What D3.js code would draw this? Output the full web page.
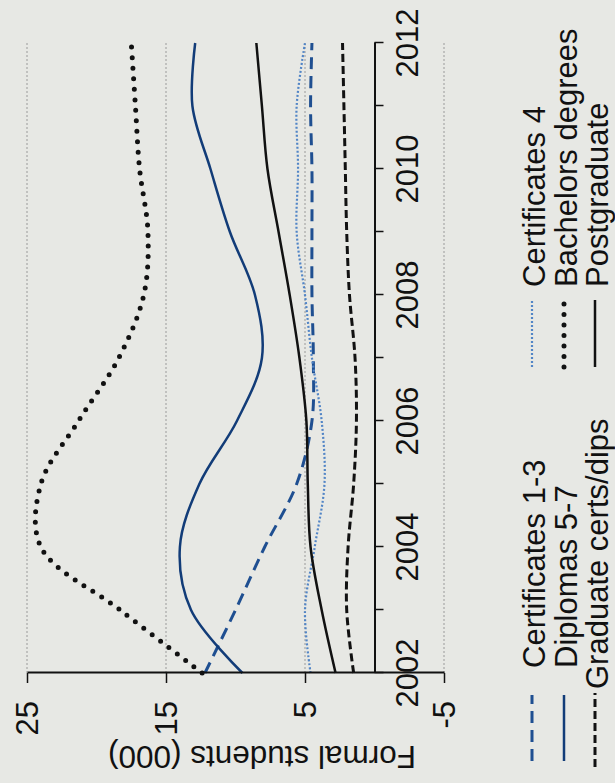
<!DOCTYPE html>
<html>
<head>
<meta charset="utf-8">
<script src="https://cdn.jsdelivr.net/npm/d3@7"></script>
<style>
body { margin: 0; background: #e7e8e4; }
svg { display: block; }
text { font-family: "Liberation Sans", Arial, sans-serif; fill: #111; }
</style>
</head>
<body>
<div class="chart"></div>
<script>
// DATA
var years = [2002, 2003, 2004, 2005, 2006, 2007, 2008, 2009, 2010, 2011, 2012];
var yearLabels = [2002, 2004, 2006, 2008, 2010, 2012];
var valueTicks = [25, 15, 5, -5];

var certs13 = [12.2, 10.0, 7.9, 5.6, 4.5, 4.4, 4.5, 4.5, 4.5, 4.6, 4.5];
var diplomas = [9.5, 13.2, 14.0, 12.6, 9.9, 8.1, 8.6, 10.4, 11.8, 13.1, 12.9];
var gradCerts = [1.5, 2.0, 1.9, 1.5, 1.3, 1.4, 1.8, 2.0, 2.1, 2.2, 2.3];
var certs4 = [4.6, 5.0, 4.3, 3.6, 3.8, 4.5, 5.0, 5.6, 5.5, 5.6, 5.0];
var bachelors = [12.4, 18.3, 24.0, 24.0, 21.3, 18.4, 16.6, 16.3, 16.9, 17.2, 17.5];
var postgrad = [2.8, 3.8, 4.6, 4.8, 4.9, 5.4, 6.1, 6.9, 7.7, 8.1, 8.5];

// line styles, in legend order (column by column)
var series = [
	{ name: "Certificates 1-3", values: certs13, color: "#1f4f91", width: 3, dash: "12,7", cap: "butt" },
	{ name: "Diplomas 5-7", values: diplomas, color: "#123c78", width: 2.5, dash: null, cap: "butt" },
	{ name: "Graduate certs/dips", values: gradCerts, color: "#111", width: 3, dash: "8,4", cap: "butt" },
	{ name: "Certificates 4", values: certs4, color: "#5285c6", width: 2.2, dash: "2,2", cap: "butt" },
	{ name: "Bachelors degrees", values: bachelors, color: "#111", width: 5, dash: "0,10.5", cap: "round" },
	{ name: "Postgraduate", values: postgrad, color: "#111", width: 2.5, dash: null, cap: "butt" }
];

// SETUP
var W = 615, H = 783;

var svg = d3.select(".chart")
	.append("svg")
	.attr("width", W)
	.attr("height", H);

svg.append("rect")
	.attr("width", W)
	.attr("height", H)
	.attr("fill", "#e7e8e4");

// the page is a scan turned a quarter left: draw upright, then rotate
var g = svg.append("g")
	.attr("transform", "translate(0," + H + ") rotate(-90)");

var x = d3.scaleLinear()
	.domain([2002, 2012])
	.range([110, 740]);

var y = d3.scaleLinear()
	.domain([-5, 25])
	.range([444, 27]);

// gridlines
g.append("g")
	.selectAll("line")
	.data(valueTicks)
	.enter().append("line")
		.attr("x1", x(2002))
		.attr("x2", x(2012))
		.attr("y1", function(d) { return y(d); })
		.attr("y2", function(d) { return y(d); })
		.attr("stroke", "#9a9a9a")
		.attr("stroke-width", 1)
		.attr("stroke-dasharray", "2,2");

// lines
var line = d3.line()
	.x(function(d, i) { return x(years[i]); })
	.y(function(d) { return y(d); })
	.curve(d3.curveCatmullRom.alpha(0.5));

g.append("g")
	.selectAll("path")
	.data(series)
	.enter().append("path")
		.attr("d", function(s) { return line(s.values); })
		.attr("fill", "none")
		.attr("stroke", function(s) { return s.color; })
		.attr("stroke-width", function(s) { return s.width; })
		.attr("stroke-dasharray", function(s) { return s.dash; })
		.attr("stroke-linecap", function(s) { return s.cap; });

// year axis sits on zero
var xAxis = g.append("g")
	.attr("transform", "translate(0," + y(0) + ")")
	.call(d3.axisBottom(x).tickValues(years).tickSize(9).tickSizeOuter(0).tickFormat(""));

var yAxis = g.append("g")
	.attr("transform", "translate(" + x(2002) + ",0)")
	.call(d3.axisLeft(y).tickValues(valueTicks).tickSize(10).tickSizeOuter(0).tickFormat(""));

g.selectAll(".domain").attr("stroke", "#111").attr("stroke-width", 2);
g.selectAll(".tick line").attr("stroke", "#111").attr("stroke-width", 1.5);

g.append("g")
	.selectAll("text")
	.data(yearLabels)
	.enter().append("text")
		.attr("x", function(d) { return x(d); })
		.attr("y", 418)
		.attr("text-anchor", "middle")
		.style("font-size", "31px")
		.text(function(d) { return d; });

g.append("g")
	.selectAll("text")
	.data(valueTicks)
	.enter().append("text")
		.attr("x", 82)
		.attr("y", function(d) { return y(d); })
		.attr("dy", "0.36em")
		.attr("text-anchor", "end")
		.style("font-size", "31px")
		.text(function(d) { return d; });

g.append("text")
	.attr("transform", "translate(37,262) rotate(-90)")
	.attr("text-anchor", "middle")
	.style("font-size", "31.5px")
	.text("Formal students (000)");

// LEGEND
var legendCols = [
	{ x1: 22, x2: 88, tx: 115 },
	{ x1: 416, x2: 483, tx: 496 }
];
var legendRows = [545, 577, 608];

series.forEach(function(s, i) {
	var col = legendCols[Math.floor(i / 3)];
	var base = legendRows[i % 3];
	var tx = col.tx, x1 = col.x1, x2 = col.x2;
	if (s.name == "Graduate certs/dips") { x1 = 16; x2 = 90; tx = 94; }
	g.append("line")
		.attr("x1", x1)
		.attr("x2", x2)
		.attr("y1", base - 13)
		.attr("y2", base - 13)
		.attr("stroke", s.color)
		.attr("stroke-width", s.width)
		.attr("stroke-dasharray", s.dash)
		.attr("stroke-linecap", s.cap);
	g.append("text")
		.attr("x", tx)
		.attr("y", base)
		.style("font-size", "31px")
		.text(s.name);
});
</script>
</body>
</html>
